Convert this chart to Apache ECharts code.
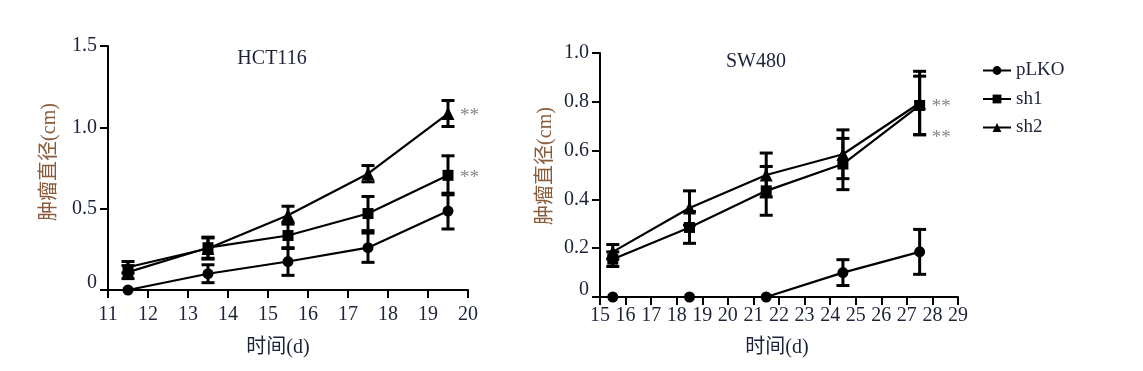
<!DOCTYPE html>
<html>
<head>
<meta charset="utf-8">
<script src="https://cdn.jsdelivr.net/npm/echarts@6/dist/echarts.min.js"></script>
<style>
html,body{margin:0;padding:0;background:#fff;}
#c{width:1143px;height:371px;}
</style>
</head>
<body>
<div id="c"></div>
<script>
// ---- data ----
const seriesNames = ['pLKO', 'sh1', 'sh2'];
// HCT116
const hctDays = [11.5, 13.5, 15.5, 17.5, 19.5];
const hctPLKO = [0, 0.10, 0.175, 0.26, 0.485];
const hctPLKOErr = [0, 0.055, 0.085, 0.09, 0.11];
const hctSh1 = [0.11, 0.26, 0.335, 0.47, 0.705];
const hctSh1Err = [0.04, 0.065, 0.08, 0.105, 0.12];
const hctSh2 = [0.14, 0.255, 0.46, 0.715, 1.085];
const hctSh2Err = [0.035, 0.065, 0.055, 0.05, 0.08];
const hctSig = [[19.5, 1.085], [19.5, 0.705]];
const hctYTicks = ['0', '0.5', '1.0', '1.5'];
// SW480
const swDays = [15.5, 18.5, 21.5, 24.5, 27.5];
const swPLKO = [0, 0, 0, 0.1, 0.185];
const swPLKOErr = [0, 0, 0, 0.053, 0.092];
const swSh1 = [0.155, 0.285, 0.435, 0.545, 0.785];
const swSh1Err = [0.03, 0.065, 0.1, 0.105, 0.12];
const swSh2 = [0.185, 0.365, 0.5, 0.585, 0.795];
const swSh2Err = [0.03, 0.07, 0.09, 0.1, 0.13];
const swSig = [[27.5, 0.79], [27.5, 0.665]];
const swYTicks = ['0', '0.2', '0.4', '0.6', '0.8', '1.0'];

const symbols = ['circle', 'rect', 'triangle'];
const symSizes = [11, 11, 13];
const txtColor = '#1c2238';
const labColor = '#8a5c3c';
const serif = '"Liberation Serif", "DejaVu Serif", serif';
const mixed = '"Liberation Serif", "Noto Sans CJK SC", serif';
const FS = 20;

function pairs(xs, ys) { return xs.map((x, i) => [x, ys[i]]); }
function errData(xs, ys, es) { return xs.map((x, i) => [x, ys[i] - es[i], ys[i] + es[i]]); }

function errSeries(xi, data) {
  return {
    type: 'custom', xAxisIndex: xi, yAxisIndex: xi, silent: true, z: 3,
    data: data,
    renderItem: function (params, api) {
      const lo = api.coord([api.value(0), api.value(1)]);
      const hi = api.coord([api.value(0), api.value(2)]);
      if (Math.abs(hi[1] - lo[1]) < 1) return null;
      const w = 6.5;
      const st = { stroke: '#000', lineWidth: 3 };
      return {
        type: 'group', children: [
          { type: 'line', shape: { x1: lo[0], y1: lo[1], x2: hi[0], y2: hi[1] }, style: st },
          { type: 'line', shape: { x1: lo[0] - w, y1: lo[1], x2: lo[0] + w, y2: lo[1] }, style: st },
          { type: 'line', shape: { x1: hi[0] - w, y1: hi[1], x2: hi[0] + w, y2: hi[1] }, style: st }
        ]
      };
    }
  };
}

function lineSeries(xi, name, idx, data) {
  return {
    type: 'line', name: name, xAxisIndex: xi, yAxisIndex: xi, data: data,
    symbol: symbols[idx], symbolSize: symSizes[idx], showAllSymbol: true,
    lineStyle: { color: '#000', width: 2.2 }, itemStyle: { color: '#000' },
    z: 4, animation: false
  };
}

function sigSeries(xi, data) {
  return {
    type: 'scatter', xAxisIndex: xi, yAxisIndex: xi, data: data, symbolSize: 0.1,
    itemStyle: { color: 'transparent' }, silent: true,
    label: { show: true, position: 'right', distance: 12, offset: [0, 3], formatter: '**', color: '#666', fontFamily: serif, fontSize: 19 }
  };
}

function yLabelFmt(ticks) {
  return function (v) {
    const s = ticks.find(t => Math.abs(parseFloat(t) - v) < 1e-6);
    if (s === '0') return '{z|0}';
    return s !== undefined ? s : '';
  };
}

const axisCommon = {
  axisLine: { show: true, lineStyle: { color: '#000', width: 2 } },
  axisTick: { show: true, inside: false, length: 8, lineStyle: { color: '#000', width: 2 } },
  splitLine: { show: false }
};

function xAxis(gi, min, max, gap, margin, namePad) {
  return Object.assign({}, axisCommon, {
    type: 'value', gridIndex: gi, min: min, max: max, interval: 1,
    name: '时间(d)', nameLocation: 'middle', nameGap: gap,
    nameTextStyle: { color: txtColor, fontFamily: mixed, fontSize: FS, padding: namePad },
    axisLabel: { color: txtColor, fontFamily: serif, fontSize: FS, margin: margin }
  });
}
function yAxis(gi, max, interval, ticks, gap, namePad) {
  return Object.assign({}, axisCommon, {
    type: 'value', gridIndex: gi, min: 0, max: max, interval: interval,
    name: '肿瘤直径(cm)', nameLocation: 'middle', nameGap: gap, nameRotate: 90,
    nameTextStyle: { color: labColor, fontFamily: mixed, fontSize: FS, padding: namePad },
    axisLabel: {
      color: txtColor, fontFamily: serif, fontSize: FS, margin: 11,
      formatter: yLabelFmt(ticks),
      rich: { z: { color: txtColor, fontFamily: serif, fontSize: FS, padding: [0, 0, 14, 0] } }
    }
  });
}

const chart = echarts.init(document.getElementById('c'), null, { renderer: 'canvas' });
chart.setOption({
  animation: false,
  backgroundColor: '#fff',
  title: [
    { text: 'HCT116', left: 267, top: 44, textAlign: 'center', textStyle: { fontFamily: serif, fontSize: FS, fontWeight: 'normal', color: txtColor } },
    { text: 'SW480', left: 751, top: 47, textAlign: 'center', textStyle: { fontFamily: serif, fontSize: FS, fontWeight: 'normal', color: txtColor } }
  ],
  legend: {
    orient: 'vertical', left: 977, top: 56, itemWidth: 28, itemHeight: 11, itemGap: 9.5,
    data: seriesNames,
    textStyle: { color: txtColor, fontFamily: serif, fontSize: 19 }
  },
  grid: [
    { left: 108, top: 46, width: 360, height: 244 },
    { left: 600, top: 53, width: 358, height: 244 }
  ],
  xAxis: [xAxis(0, 11, 20, 48, 15, [0, 20, 0, 0]), xAxis(1, 15, 29, 41, 9, [0, 4, 0, 0])],
  yAxis: [yAxis(0, 1.5, 0.5, hctYTicks, 48, [0, 0, 0, 12]), yAxis(1, 1.0, 0.2, swYTicks, 44, [0, 0, 0, 18])],
  series: [
    errSeries(0, errData(hctDays, hctPLKO, hctPLKOErr)),
    errSeries(0, errData(hctDays, hctSh1, hctSh1Err)),
    errSeries(0, errData(hctDays, hctSh2, hctSh2Err)),
    lineSeries(0, seriesNames[0], 0, pairs(hctDays, hctPLKO)),
    lineSeries(0, seriesNames[1], 1, pairs(hctDays, hctSh1)),
    lineSeries(0, seriesNames[2], 2, pairs(hctDays, hctSh2)),
    sigSeries(0, hctSig),
    errSeries(1, errData(swDays, swPLKO, swPLKOErr)),
    errSeries(1, errData(swDays, swSh1, swSh1Err)),
    errSeries(1, errData(swDays, swSh2, swSh2Err)),
    lineSeries(1, seriesNames[0], 0, pairs(swDays, swPLKO)),
    lineSeries(1, seriesNames[1], 1, pairs(swDays, swSh1)),
    lineSeries(1, seriesNames[2], 2, pairs(swDays, swSh2)),
    sigSeries(1, swSig)
  ]
});
</script>
</body>
</html>
